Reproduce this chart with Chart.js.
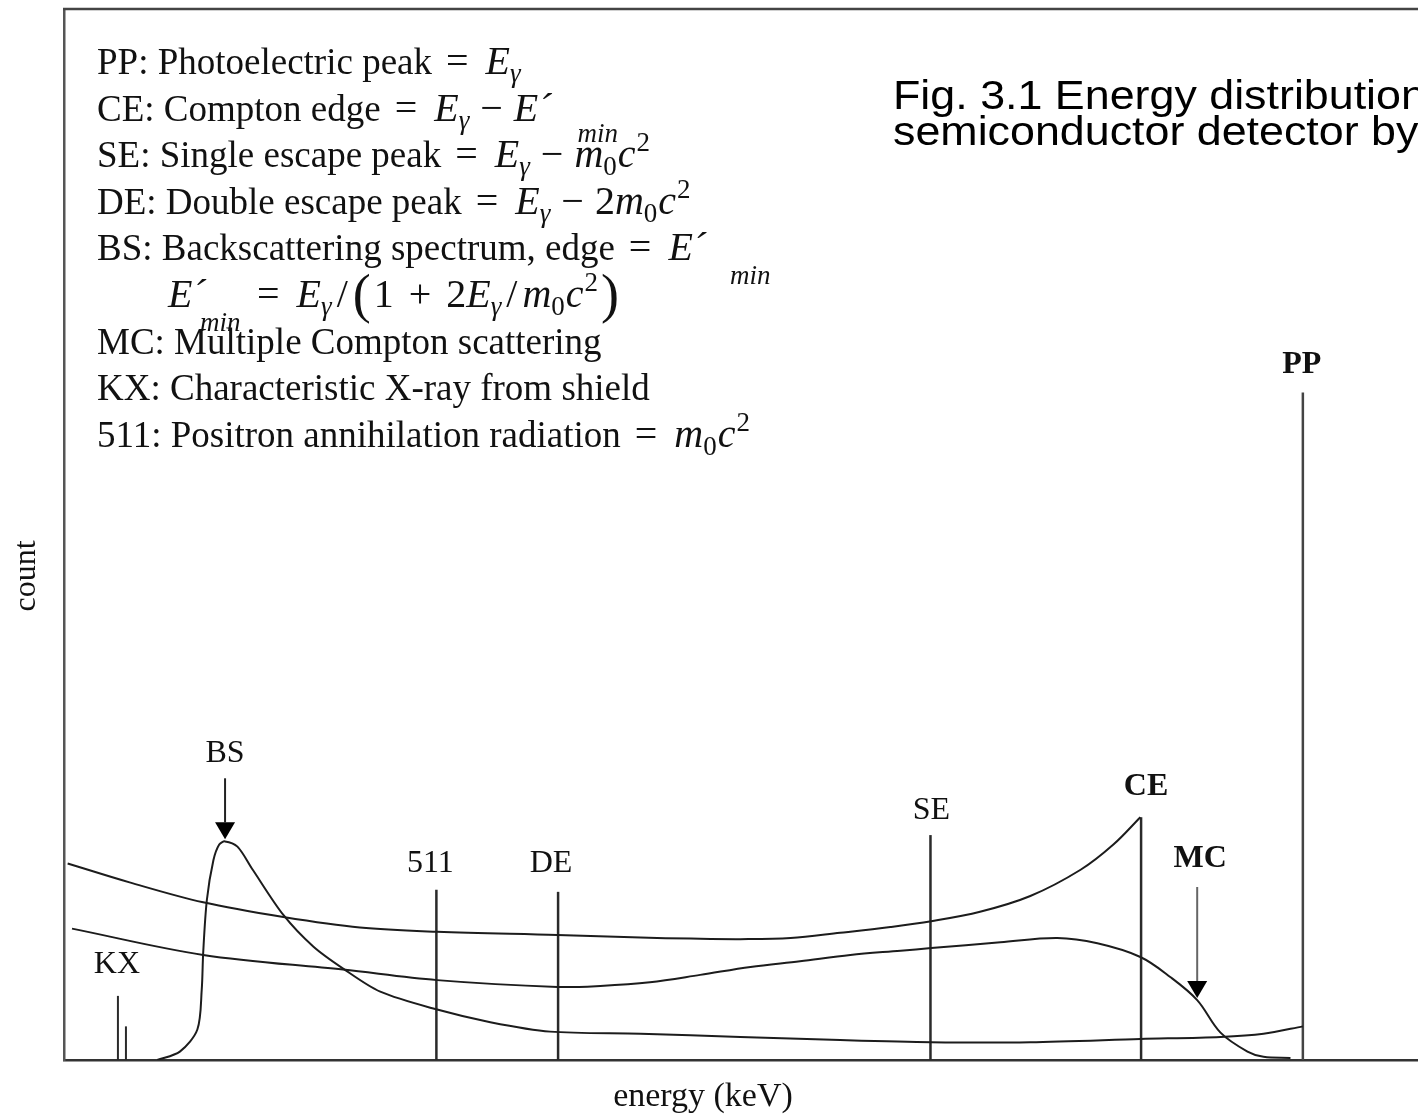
<!DOCTYPE html>
<html><head><meta charset="utf-8">
<script src="https://cdn.jsdelivr.net/npm/chart.js@4.4.1/dist/chart.umd.min.js"></script>
<style>html,body{margin:0;padding:0;background:#fff;overflow:hidden}</style>
</head><body>
<canvas id="c" width="1418" height="1119"></canvas>
<script>
// ---- data (energy in keV, count in arbitrary units) ----
const peakTags   = ['KX', '', '511', 'DE', 'SE', 'CE', 'PP'];
const peakEnergy = [74, 85, 511, 678, 1189, 1478, 1700];
const peakCount  = [6.1, 3.2, 16.2, 16.0, 21.4, 23.1, 63.5];

const comptonE     = [5, 90, 191, 301, 406, 512, 677, 791, 860, 928, 997, 1065, 1134, 1190, 1257, 1326, 1395, 1440, 1477];
const comptonCount = [18.7, 16.9, 15.0, 13.6, 12.6, 12.2, 11.9, 11.65, 11.55, 11.5, 11.6, 12.1, 12.65, 13.2, 14.1, 15.6, 18.1, 20.5, 23.1];

const multiE     = [11, 191, 383, 512, 677, 736, 804, 873, 942, 1010, 1079, 1148, 1190, 1285, 1363, 1418, 1477, 1518, 1555, 1587, 1624, 1646, 1683];
const multiCount = [12.5, 10.0, 8.6, 7.6, 6.95, 7.05, 7.4, 8.1, 8.85, 9.4, 10.0, 10.4, 10.65, 11.2, 11.6, 11.1, 9.8, 7.9, 5.7, 2.6, 0.8, 0.3, 0.2];

const backE     = [128, 159, 183, 189, 191, 196, 205, 213, 221, 238, 259, 301, 342, 383, 434, 512, 585, 667, 791, 928, 1065, 1190, 1326, 1477, 1587, 1646, 1700];
const backCount = [0, 0.8, 2.9, 6.7, 10.2, 15.2, 19.0, 20.5, 20.8, 20.3, 18.1, 13.8, 10.8, 8.7, 6.5, 4.8, 3.6, 2.7, 2.5, 2.2, 1.9, 1.7, 1.7, 2.0, 2.2, 2.5, 3.2];

const arrowTags     = ['BS', 'MC'];
const arrowEnergy   = [221, 1555];
const arrowTipCount = [21.0, 5.9];

const xTitle = 'energy (keV)';
const yTitle = 'count';
const figTitle = ['Fig. 3.1 Energy distribution', 'semiconductor detector by'];

// ---- styles ----
const SERIF = '"Liberation Serif","Times New Roman",serif';
const SANS  = '"Liberation Sans",Arial,sans-serif';
const INK = '#1c1c1c';

const toXY = (xs, ys) => xs.map((x, i) => ({x, y: ys[i]}));

const curveStyle = {borderColor: INK, borderWidth: 2, pointRadius: 0, fill: false, tension: 0.35};
const datasets = [
  Object.assign({data: toXY(comptonE, comptonCount)}, curveStyle),
  Object.assign({data: toXY(multiE, multiCount)}, curveStyle),
  Object.assign({data: toXY(backE, backCount)}, curveStyle, {tension: 0.3}),
];
peakEnergy.forEach((e, i) => {
  datasets.push({data: [{x: e, y: 0}, {x: e, y: peakCount[i]}], borderColor: i === 6 ? '#444' : '#2a2a2a',
    borderWidth: i < 2 ? 2 : 2.5, pointRadius: 0, tension: 0});
});

function drawSeq(ctx, x, y, segs) {
  ctx.textAlign = 'left'; ctx.textBaseline = 'alphabetic';
  for (const s of segs) {
    if (s.gap) { x += s.gap; continue; }
    ctx.font = s.f;
    ctx.fillText(s.t, x + (s.dx || 0), y + (s.dy || 0));
    if (!s.stay) x += ctx.measureText(s.t).width + (s.dx || 0);
  }
  return x;
}

const R = '37px ' + SERIF;
const MI = 'italic 40px ' + SERIF, MR = '40px ' + SERIF;
const Sb = '27px ' + SERIF, SbI = 'italic 27px ' + SERIF, BIG = '54px ' + SERIF;
const G = n => ({gap: n});
const EQ = () => [G(14), {t: '=', f: MR}, G(17)];
const MINUS = () => [G(11), {t: '−', f: MR}, G(11)];
const Eg = () => [{t: 'E', f: MI}, {t: 'γ', f: SbI, dy: 8}];
const mc2 = () => [{t: 'm', f: MI}, {t: '0', f: Sb, dy: 8}, G(1), {t: 'c', f: MI}, G(1), {t: '2', f: Sb, dy: -16}];

const labelOffsets = { // dx, gap above mark top (pixels)
  'KX': [-1, 23], '511': [-6, 18], 'DE': [-7, 20], 'SE': [1, 16], 'CE': [5, 22], 'PP': [-1, 20]
};
const labelBold = {'PP': true, 'CE': true, 'MC': true};
const arrowLen = {'BS': 61, 'MC': 111};
const arrowGap = {'BS': 16, 'MC': 20};

const decor = {
  id: 'decor',
  afterDraw(chart) {
    const ctx = chart.ctx, a = chart.chartArea;
    const xs = chart.scales.x, ys = chart.scales.y;
    ctx.save();
    // top frame line
    ctx.strokeStyle = '#444'; ctx.lineWidth = 2.5;
    ctx.beginPath(); ctx.moveTo(a.left - 1, a.top); ctx.lineTo(a.right, a.top); ctx.stroke();

    ctx.fillStyle = '#111';
    // legend block
    const L = 97, y0 = 74, dy = 46.6;
    drawSeq(ctx, L, y0, [{t: 'PP: Photoelectric peak', f: R}, ...EQ(), ...Eg()]);
    drawSeq(ctx, L, y0 + dy, [{t: 'CE: Compton edge', f: R}, ...EQ(), ...Eg(), ...MINUS(), {t: 'E´', f: MI}]);
    drawSeq(ctx, L, y0 + 2 * dy, [{t: 'SE: Single escape peak', f: R}, ...EQ(), ...Eg(), ...MINUS(),
      {t: 'min', f: SbI, dy: -25, dx: 3, stay: true}, ...mc2()]);
    drawSeq(ctx, L, y0 + 3 * dy, [{t: 'DE: Double escape peak', f: R}, ...EQ(), ...Eg(), ...MINUS(), {t: '2', f: MR}, ...mc2()]);
    drawSeq(ctx, L, y0 + 4 * dy, [{t: 'BS: Backscattering spectrum, edge', f: R}, ...EQ(), {t: 'E´', f: MI}]);
    drawSeq(ctx, 730, y0 + 4 * dy + 24, [{t: 'min', f: SbI}]);
    drawSeq(ctx, 168, y0 + 5 * dy, [{t: 'E´', f: MI}]);
    drawSeq(ctx, 200, y0 + 5 * dy + 24, [{t: 'min', f: SbI}]);
    drawSeq(ctx, 257, y0 + 5 * dy, [{t: '=', f: MR}, G(17), ...Eg(), G(5), {t: '/', f: MR}, G(5), {t: '(', f: BIG, dy: 5}, G(3),
      {t: '1', f: MR}, G(15), {t: '+', f: MR}, G(15), {t: '2', f: MR}, ...Eg(), G(5), {t: '/', f: MR}, G(5), ...mc2(), G(3),
      {t: ')', f: BIG, dy: 5}]);
    drawSeq(ctx, L, y0 + 6 * dy, [{t: 'MC: Multiple Compton scattering', f: R}]);
    drawSeq(ctx, L, y0 + 7 * dy, [{t: 'KX: Characteristic X-ray from shield', f: R}]);
    drawSeq(ctx, L, y0 + 8 * dy, [{t: '511: Positron annihilation radiation', f: R}, ...EQ(), ...mc2()]);

    // figure caption (cut by the page edge)
    ctx.fillStyle = '#000';
    ctx.save(); ctx.translate(893, 0); ctx.scale(1.12, 1);
    ctx.font = '40px ' + SANS; ctx.textAlign = 'left';
    ctx.fillText(figTitle[0], 0, 109);
    ctx.fillText(figTitle[1], 0, 145);
    ctx.restore();

    // axis titles
    ctx.fillStyle = '#111';
    ctx.font = '34px ' + SERIF; ctx.textAlign = 'center';
    ctx.fillText(xTitle, 703, 1106);
    ctx.save(); ctx.translate(35, 576); ctx.rotate(-Math.PI / 2);
    ctx.font = '32px ' + SERIF; ctx.fillText(yTitle, 0, 0); ctx.restore();

    // peak labels
    peakTags.forEach((t, i) => {
      if (!t) return;
      const o = labelOffsets[t];
      const px = xs.getPixelForValue(peakEnergy[i]) + o[0];
      const py = ys.getPixelForValue(peakCount[i]) - o[1];
      ctx.font = (labelBold[t] ? 'bold ' : '') + '32px ' + SERIF;
      ctx.textAlign = 'center';
      ctx.fillText(t, px, py);
    });

    // arrows
    arrowTags.forEach((t, i) => {
      const px = xs.getPixelForValue(arrowEnergy[i]);
      const tip = ys.getPixelForValue(arrowTipCount[i]);
      const tail = tip - arrowLen[t];
      const headH = 17, headW = 10;
      ctx.strokeStyle = t === 'MC' ? '#666' : '#222'; ctx.lineWidth = 2;
      ctx.beginPath(); ctx.moveTo(px, tail); ctx.lineTo(px, tip - headH); ctx.stroke();
      ctx.fillStyle = '#000';
      ctx.beginPath(); ctx.moveTo(px - headW, tip - headH); ctx.lineTo(px + headW, tip - headH); ctx.lineTo(px, tip); ctx.closePath(); ctx.fill();
      ctx.font = (labelBold[t] ? 'bold ' : '') + '32px ' + SERIF; ctx.textAlign = 'center';
      ctx.fillStyle = '#111';
      ctx.fillText(t, px + (t === 'MC' ? 3 : 0), tail - arrowGap[t]);
    });
    ctx.restore();
  }
};

new Chart(document.getElementById('c'), {
  type: 'line',
  data: {datasets},
  options: {
    responsive: false, animation: false, devicePixelRatio: 1,
    layout: {padding: {left: 64, top: 9, right: 0, bottom: 59}},
    plugins: {legend: {display: false}, tooltip: {enabled: false}},
    scales: {
      x: {type: 'linear', min: 0, max: 1858, ticks: {display: false}, grid: {display: false, drawTicks: false},
          border: {display: true, color: '#333', width: 2.5}, afterFit: s => { s.height = 0; }},
      y: {type: 'linear', min: 0, max: 100, ticks: {display: false}, grid: {display: false, drawTicks: false},
          border: {display: true, color: '#555', width: 2.5}, afterFit: s => { s.width = 0; }}
    }
  },
  plugins: [decor]
});
</script>
</body></html>
